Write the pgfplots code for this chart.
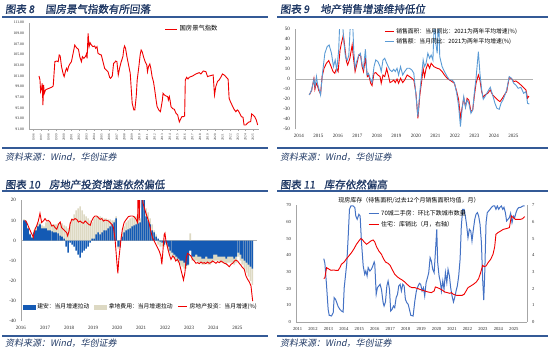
\documentclass[border=0pt]{standalone}
\usepackage{fontspec}
\setmainfont{Liberation Serif}
\newfontfamily\cjk{Noto Sans CJK SC}
\newfontfamily\cjkt[FakeBold=1.2,FakeSlant=0.12]{Noto Sans CJK SC}
\newfontfamily\cjks[FakeSlant=0.2]{Noto Sans CJK SC}
\usepackage{pgfplots}
\pgfplotsset{compat=1.18}
\usepackage{pgfplotstable}
\definecolor{titlec}{RGB}{31,56,100}
\definecolor{rulec}{RGB}{52,90,150}
\definecolor{redc}{RGB}{240,0,0}
\definecolor{lblue}{RGB}{91,155,213}
\definecolor{barblue}{RGB}{20,90,180}
\definecolor{beigec}{RGB}{221,217,195}
\definecolor{p4blue}{RGB}{68,114,196}
\pgfplotsset{/pgf/number format/1000 sep={}}

\pgfplotstableread{
x y
1996.72 101.00
1996.85 100.25
1996.94 98.06
1997.07 98.69
1997.15 99.63
1997.24 95.56
1997.33 99.31
1997.42 97.75
1997.59 98.38
1997.72 98.50
1998.38 98.88
1998.60 99.13
1998.82 103.69
1999.04 103.81
1999.26 103.69
1999.39 104.94
1999.52 104.75
1999.70 102.75
1999.92 101.38
2000.05 100.88
2000.27 102.13
2000.36 102.44
2000.49 102.00
2000.62 102.75
2000.80 103.25
2001.01 103.69
2001.23 105.25
2001.45 106.81
2001.58 106.50
2001.76 106.19
2001.94 106.00
2002.11 104.63
2002.33 103.69
2002.46 104.63
2002.64 104.31
2002.86 104.63
2002.99 105.13
2003.08 104.31
2003.21 109.00
2003.34 106.50
2003.47 107.25
2003.65 106.81
2003.86 106.50
2004.08 106.63
2004.22 106.19
2004.39 106.50
2004.52 105.25
2004.74 105.06
2004.96 104.94
2005.18 103.69
2005.40 102.44
2005.62 102.13
2005.84 101.81
2006.06 100.75
2006.19 100.56
2006.41 101.00
2006.58 103.38
2006.72 103.50
2006.85 103.81
2007.02 103.69
2007.20 101.19
2007.37 102.44
2007.59 103.69
2007.81 104.63
2007.94 106.19
2008.03 106.63
2008.16 106.19
2008.34 104.63
2008.56 103.06
2008.78 101.50
2008.91 98.69
2009.04 95.88
2009.26 94.63
2009.39 94.63
2009.57 97.13
2009.70 100.25
2009.92 102.75
2010.09 104.94
2010.22 105.88
2010.36 105.56
2010.53 104.63
2010.75 103.69
2010.97 103.06
2011.06 101.81
2011.19 102.75
2011.37 103.25
2011.50 102.44
2011.67 100.88
2011.85 99.94
2012.02 98.38
2012.20 96.50
2012.33 95.25
2012.55 94.63
2012.77 94.31
2012.90 95.38
2013.03 96.50
2013.12 97.75
2013.30 97.44
2013.51 97.25
2013.73 97.13
2013.82 96.50
2013.95 97.13
2014.04 96.50
2014.17 95.25
2014.39 94.88
2014.61 94.75
2014.83 94.00
2015.05 93.69
2015.27 92.38
2015.49 93.06
2015.62 93.38
2015.84 93.38
2015.97 93.50
2016.06 100.25
2016.23 100.75
2016.41 100.44
2016.58 100.75
2016.80 100.88
2017.02 101.00
2017.46 101.38
2017.90 101.63
2018.12 101.38
2018.43 101.94
2018.78 101.81
2019.00 100.88
2019.22 101.00
2019.57 101.13
2019.74 101.19
2019.92 97.44
2020.09 99.00
2020.31 99.94
2020.53 100.25
2020.75 100.75
2020.97 101.38
2021.19 101.19
2021.41 100.88
2021.72 100.38
2021.85 96.81
2022.02 96.19
2022.29 95.38
2022.51 94.75
2022.73 94.31
2022.94 94.63
2023.08 94.44
2023.25 94.00
2023.47 93.38
2023.69 93.25
2023.82 91.81
2024.04 91.81
2024.26 92.13
2024.48 92.38
2024.70 92.44
2024.83 93.88
2025.00 93.69
2025.23 93.38
2025.44 92.75
2025.62 91.81
}\climateT

\pgfplotstableread{
x y
2014.53 -15.7
2014.65 -11.3
2014.77 0.7
2014.82 -10
2014.89 -4
2014.94 -5.7
2015.02 -11.3
2015.11 -14.7
2015.19 2.7
2015.29 11
2015.41 16
2015.53 18.7
2015.64 13.3
2015.75 7.7
2015.84 6
2015.93 11
2016.01 7.7
2016.11 29.3
2016.18 36
2016.28 44.3
2016.35 32.7
2016.44 17.7
2016.50 14.3
2016.61 20.7
2016.73 34.3
2016.79 22.7
2016.88 7.7
2016.96 14.3
2017.07 24.3
2017.17 23.3
2017.24 12.7
2017.31 7.7
2017.41 21
2017.51 2.7
2017.58 4.3
2017.68 -4
2017.75 -6.3
2017.85 6
2017.94 6.7
2018.05 4.3
2018.16 2.7
2018.22 -4
2018.31 4.3
2018.40 2.7
2018.50 10.7
2018.58 4.3
2018.67 -3.3
2018.77 -2.3
2018.86 -0.7
2018.94 -3.3
2019.03 0.3
2019.11 -4
2019.21 1
2019.32 -3.3
2019.42 -0.7
2019.55 4.3
2019.67 2.7
2019.79 1
2019.89 -0.7
2020.00 -14
2020.10 -39
2020.20 -15.7
2020.30 -0.7
2020.37 10.7
2020.44 2.7
2020.52 10.7
2020.61 15.3
2020.70 11
2020.78 16
2020.92 12.7
2021.09 11
2021.21 10.3
2021.34 7.7
2021.46 4.3
2021.60 1
2021.72 -0.7
2021.85 -2.3
2021.97 -4
2022.09 -12.3
2022.19 -20.7
2022.28 -39
2022.36 -29
2022.45 -19
2022.54 -27.3
2022.62 -19
2022.71 -20.7
2022.82 -32.3
2022.91 -30.7
2022.99 -17.3
2023.08 -4
2023.20 4.3
2023.28 -0.7
2023.37 -12.3
2023.45 -18
2023.54 -15.7
2023.68 -14
2023.81 -10.7
2023.93 -15.7
2024.05 -18
2024.19 -20.7
2024.31 -22.3
2024.43 -19
2024.53 -15.7
2024.65 -12.3
2024.78 1.7
2024.90 0.7
2025.01 -2.3
2025.12 -1.7
2025.24 -3.3
2025.38 -5.7
2025.52 -8.3
2025.64 -10.7
2025.72 -19
2025.79 -16.7
}\areaT

\pgfplotstableread{
x y
2014.53 -15.7
2014.65 -10.7
2014.77 0
2014.83 -7.3
2014.90 2.7
2014.95 -4
2015.04 -10.7
2015.11 -15.7
2015.21 6
2015.33 26
2015.45 32.7
2015.55 34.3
2015.67 26
2015.77 12.7
2015.86 19.3
2015.94 9.3
2016.04 29.3
2016.11 65
2016.21 65
2016.30 38
2016.39 22
2016.48 19
2016.56 24
2016.66 65
2016.74 65
2016.81 29.3
2016.88 11
2016.96 17.7
2017.07 24.3
2017.15 26
2017.24 14.3
2017.31 11
2017.41 30
2017.49 4.3
2017.56 6
2017.68 -0.7
2017.75 -3.3
2017.85 12.7
2017.94 19.3
2018.05 17.7
2018.16 12.7
2018.22 7.7
2018.31 19.3
2018.40 21
2018.50 16
2018.58 12.7
2018.67 9.3
2018.77 7.7
2018.86 10
2018.94 7.7
2019.03 11
2019.11 4.3
2019.21 12.7
2019.32 4.3
2019.42 7.7
2019.55 11
2019.67 11
2019.79 9.3
2019.89 6
2020.00 -15.7
2020.10 -37.3
2020.20 -12.3
2020.30 6
2020.37 19.3
2020.44 12.7
2020.52 16
2020.61 26
2020.70 21
2020.78 24.3
2020.87 19.3
2020.95 65
2021.02 36
2021.09 26
2021.16 65
2021.22 22.7
2021.34 12.7
2021.46 7.7
2021.60 2.7
2021.72 -0.7
2021.85 -0.7
2021.97 -3.3
2022.09 -14
2022.19 -27.3
2022.28 -47.3
2022.36 -30.7
2022.45 -17.3
2022.54 -28.3
2022.62 -20.7
2022.71 -24
2022.82 -34
2022.91 -30.7
2022.99 -14
2023.08 1
2023.20 27.7
2023.28 6
2023.37 -10.7
2023.45 -20
2023.54 -17.3
2023.68 -12.3
2023.81 -8
2023.93 -15.7
2024.05 -24
2024.15 -29
2024.27 -30
2024.36 -24
2024.46 -20.7
2024.56 -15.7
2024.65 -10.7
2024.78 2.7
2024.90 1
2025.01 -4
2025.12 -5.7
2025.24 -9
2025.38 -8
2025.52 -14
2025.64 -12.3
2025.72 -24
2025.81 -24.7
}\valueT

\pgfplotstableread{
x blue beige
2016.125 10 10.5
2016.208 9.5 10
2016.292 6 6.5
2016.375 3 3.5
2016.458 1.5 2
2016.542 4 5
2016.625 5 6.5
2016.708 7 8.5
2016.792 8 9
2016.875 6 7.5
2016.958 6 7
2017.042 6 9
2017.125 5 9.5
2017.208 5 9
2017.292 4.5 8
2017.375 4 8
2017.458 4 8
2017.542 3.5 8.5
2017.625 2.5 9
2017.708 2 8.5
2017.792 1 7.5
2017.875 -3 7
2017.958 -6 6
2018.042 -1 9
2018.125 -2 11
2018.208 -3 13
2018.292 -5 15
2018.375 -7 16
2018.458 -8.5 17
2018.542 -6 15
2018.625 -5 13
2018.708 -4 12
2018.792 -3 11
2018.875 -1 10
2018.958 1 9
2019.042 1 11
2019.125 3 12
2019.208 4 12
2019.292 3 12
2019.375 4 11.5
2019.458 5 11
2019.542 5 11
2019.625 6 10.5
2019.708 7 10.5
2019.792 8 10
2019.875 9 10
2019.958 11 12
2020.042 -3 -4
2020.125 -3 -3.5
2020.208 2 4
2020.292 4 7
2020.375 5 9
2020.458 5.5 10
2020.542 6 11
2020.625 7 11.5
2020.708 7.5 12
2020.792 8 12
2020.875 8.5 11.5
2020.958 9 11
2021.042 25 25
2021.125 25 25
2021.208 12 16
2021.292 10 14
2021.375 8 11
2021.458 5 8
2021.542 4 5
2021.625 2 3
2021.708 1 -2
2021.792 -0.5 -3
2021.875 -1 -3
2021.958 -2 -3
2022.042 -1 -2
2022.125 -3 -5
2022.208 -5 -7
2022.292 -6 -8
2022.375 -7 -9
2022.458 -8 -10
2022.542 -9 -11
2022.625 -10 -12
2022.708 -10 -13
2022.792 -11 -14
2022.875 -12.5 -14
2022.958 -12 -12.5
2023.042 -5 3.5
2023.125 -8 -10
2023.208 -8 -10
2023.292 -7 -10
2023.375 -8 -11
2023.458 -8 -11
2023.542 -9 -12
2023.625 -9 -12
2023.708 -8 -11
2023.792 -9 -12
2023.875 -9 -12
2023.958 -9 -11
2024.042 -7 -10
2024.125 -7 -10
2024.208 -8 -10
2024.292 -8 -11
2024.375 -8 -11
2024.458 -8 -11
2024.542 -9 -12
2024.625 -8 -11
2024.708 -8 -11
2024.792 -8 -11
2024.875 -9 -12
2024.958 -8 -11
2025.042 -6 -8
2025.125 -7 -10
2025.208 -9 -12
2025.292 -10 -14
2025.375 -11 -16
2025.458 -12 -18
2025.542 -13 -20
2025.625 -14 -22
}\barsT

\pgfplotstableread{
x y
2016.17 10
2016.24 8.9
2016.33 6.4
2016.42 3.9
2016.49 2.3
2016.51 1.5
2016.58 5.6
2016.65 7.2
2016.72 9.7
2016.79 13.5
2016.86 8.9
2016.93 9.7
2017.00 10.9
2017.07 9.7
2017.14 10
2017.21 9.2
2017.28 7.2
2017.35 7.6
2017.42 6.4
2017.49 5.6
2017.56 8.1
2017.63 9.2
2017.69 6.4
2017.76 5.6
2017.83 4.7
2017.90 3.9
2017.94 2.3
2018.00 4.7
2018.04 8.1
2018.11 10.5
2018.18 10.2
2018.25 10.9
2018.32 10.5
2018.39 9.2
2018.46 9.7
2018.53 8.9
2018.60 8.6
2018.67 9.7
2018.74 8.9
2018.81 8.1
2018.88 7.6
2018.94 9.7
2019.01 11.4
2019.08 12.2
2019.15 12.2
2019.22 11.4
2019.29 10.5
2019.36 10.9
2019.43 9.7
2019.50 10.2
2019.57 10
2019.64 9.7
2019.71 8.9
2019.78 8.1
2019.85 6.4
2019.92 -0.2
2019.99 -11
2020.03 -16.3
2020.07 -9.4
2020.13 -2.7
2020.17 1.5
2020.22 5.6
2020.29 8.9
2020.38 10.5
2020.47 11.9
2020.57 12.2
2020.65 12.2
2020.72 11.7
2020.79 10.5
2020.85 8.9
2020.88 30
2020.92 10
2020.96 30
2021.03 30
2021.07 18.8
2021.13 16.4
2021.19 13.9
2021.26 11.4
2021.33 8.9
2021.40 4.7
2021.47 1.5
2021.54 -0.2
2021.61 -1.9
2021.68 -3.5
2021.75 -5.2
2021.82 -7.7
2021.86 -11.8
2021.90 -6
2021.96 3.1
2021.99 3.7
2022.03 -0.2
2022.10 -3.5
2022.17 -6.9
2022.24 -9.4
2022.31 -7.7
2022.38 -8.5
2022.44 -10.2
2022.51 -9.4
2022.58 -11
2022.65 -14.3
2022.72 -17.6
2022.76 -19.6
2022.82 -16
2022.88 -8.5
2022.93 -6.4
2023.00 -6.9
2023.07 -7.7
2023.14 -9.4
2023.21 -10.2
2023.28 -11.3
2023.35 -11
2023.42 -11.5
2023.49 -10.7
2023.56 -11.3
2023.63 -11
2023.69 -11.5
2023.76 -10.7
2023.83 -11.3
2023.90 -11
2023.97 -10.2
2024.04 -10.7
2024.11 -11.3
2024.18 -10.5
2024.25 -11
2024.32 -10.2
2024.39 -10.7
2024.46 -11.3
2024.53 -11.5
2024.60 -12.3
2024.67 -13
2024.74 -11.8
2024.81 -11.3
2024.88 -10.2
2024.94 -9.7
2025.01 -10.2
2025.08 -11.3
2025.15 -12.3
2025.22 -13.5
2025.29 -14.3
2025.36 -17.6
2025.43 -19.3
2025.50 -20.6
2025.57 -22.6
2025.64 -30.1
}\investT

\pgfplotstableread{
x y
2012.70 38
2012.77 35.2
2012.88 21.6
2012.98 7.6
2013.05 4
2013.20 3.6
2013.31 5.6
2013.37 14.6
2013.46 13.6
2013.54 11.6
2013.63 9.2
2013.74 7.6
2013.84 6.6
2013.95 6
2014.02 20.6
2014.10 27.6
2014.19 35.6
2014.28 51.6
2014.36 67.6
2014.45 69.6
2014.60 69.6
2014.71 68.6
2014.77 63.6
2014.86 61.6
2014.97 64.6
2015.05 63.6
2015.14 47.6
2015.25 33.6
2015.35 28.6
2015.42 30.6
2015.50 27.6
2015.57 32.6
2015.68 30.6
2015.78 31.6
2015.87 33.6
2015.96 36
2016.00 34.6
2016.09 16.6
2016.17 20.6
2016.26 21.6
2016.34 22.6
2016.43 19.6
2016.54 11.6
2016.60 9.6
2016.69 12
2016.78 21.6
2016.86 24.6
2016.95 19.6
2017.03 6.6
2017.12 7.6
2017.21 9.6
2017.29 8.6
2017.38 14.6
2017.47 16.6
2017.55 21.6
2017.64 22.6
2017.72 18.6
2017.81 22.6
2017.90 21.6
2017.98 13.6
2018.07 11.6
2018.16 10.6
2018.24 7.6
2018.33 4
2018.48 3.6
2018.59 12.6
2018.69 18.6
2018.80 21.6
2018.89 23.2
2018.97 22.6
2019.06 18.6
2019.15 20.6
2019.23 15.6
2019.32 23.6
2019.41 26.6
2019.49 29.6
2019.58 38.6
2019.66 36.6
2019.75 31.6
2019.84 29.6
2019.92 41.6
2020.01 55.6
2020.07 35.6
2020.16 27.6
2020.25 23.6
2020.31 18.6
2020.40 24.6
2020.48 19.6
2020.57 29.6
2020.66 23.6
2020.74 31.6
2020.83 27.6
2020.91 20.6
2021.00 15.6
2021.09 12
2021.17 14.6
2021.26 18.6
2021.34 21.6
2021.43 27.6
2021.52 37.6
2021.60 57.6
2021.69 67.6
2021.78 67.6
2021.86 63.6
2021.95 57.6
2022.03 50.6
2022.12 55.6
2022.21 54.6
2022.29 48.6
2022.38 55.6
2022.47 61.6
2022.55 64.6
2022.64 65.6
2022.72 63.6
2022.81 58.6
2022.90 47.6
2022.98 25.6
2023.05 13.2
2023.11 27.6
2023.20 59.6
2023.28 65.6
2023.37 66.6
2023.46 67.6
2023.54 68.6
2023.65 69.6
2023.76 69.6
2023.84 67.6
2023.93 69.6
2024.02 67.6
2024.10 68.8
2024.19 69.6
2024.28 67.6
2024.36 68.8
2024.45 65.6
2024.53 60.6
2024.62 61.6
2024.71 62.6
2024.79 65.2
2024.88 59.6
2024.97 63.6
2025.05 62.6
2025.14 65.6
2025.22 67.6
2025.31 68.6
2025.44 68.8
2025.59 69.6
2025.70 69.6
}\citiesT

\pgfplotstableread{
x y
2012.70 2.6
2012.77 2.66
2012.88 3.26
2012.98 3.2
2013.16 3.1
2013.31 3.12
2013.46 3.1
2013.63 3.1
2013.74 3.26
2013.84 3.46
2014.02 3.6
2014.17 3.8
2014.32 3.96
2014.49 4.16
2014.66 4.4
2014.81 4.66
2014.97 4.86
2015.09 5.0
2015.18 4.96
2015.31 4.8
2015.46 4.66
2015.61 4.76
2015.74 4.86
2015.89 4.92
2016.00 4.8
2016.11 4.52
2016.26 4.26
2016.43 4.06
2016.56 3.8
2016.69 3.6
2016.86 3.52
2016.99 3.4
2017.12 3.16
2017.29 2.86
2017.47 2.7
2017.62 2.6
2017.77 2.52
2017.94 2.4
2018.09 2.26
2018.26 2.12
2018.41 2.06
2018.59 2.06
2018.80 2.0
2019.02 1.92
2019.23 1.86
2019.45 1.8
2019.66 1.76
2019.84 1.86
2019.92 2.1
2020.05 2.06
2020.20 2.0
2020.35 1.92
2020.53 1.8
2020.70 1.76
2020.85 1.72
2020.96 1.76
2021.09 1.66
2021.28 1.6
2021.50 1.6
2021.65 1.6
2021.78 1.66
2021.91 1.86
2022.03 2.06
2022.21 2.16
2022.38 2.26
2022.57 2.4
2022.72 2.6
2022.85 2.96
2022.98 3.4
2023.07 3.32
2023.20 3.36
2023.33 3.56
2023.50 3.76
2023.65 4.06
2023.76 4.52
2023.84 5.26
2023.97 5.36
2024.15 5.46
2024.32 5.56
2024.51 5.6
2024.71 5.66
2024.84 6.36
2024.97 6.26
2025.09 6.16
2025.27 6.16
2025.44 6.16
2025.57 6.2
2025.70 6.32
}\ratioT

\pgfplotsset{
  base/.style={
    anchor=south west, scale only axis,
    /pgf/number format/assume math mode=true,
    axis line style={draw=gray!70, line width=0.4pt},
    tick style={draw=gray!70, line width=0.4pt},
    major tick length=1.5pt, tick align=outside,
    ytick style={draw=none},
    tick label style={font=\fontsize{5}{5}\selectfont, text=black!85},
    legend cell align=left,
    legend style={draw=none, fill=none, inner sep=0pt, outer sep=0pt,
      font=\cjk\fontsize{5.8}{7}\selectfont},
    legend image code/.code={\draw[#1, line width=1pt] (0pt,0pt) -- (9pt,0pt);},
  },
}

\begin{document}
\begin{tikzpicture}
\useasboundingbox (0pt,0pt) rectangle (550pt,352pt);

% ---------- titles, rules, sources ----------
\begin{scope}[every node/.style={inner sep=0pt, anchor=west}]
\node[text=titlec, font=\cjkt\fontsize{10.5}{12}\selectfont] at (5pt,343pt) {图表 8\hspace{11pt}国房景气指数有所回落};
\node[text=titlec, font=\cjkt\fontsize{10.5}{12}\selectfont] at (280pt,343pt) {图表 9\hspace{11pt}地产销售增速维持低位};
\node[text=titlec, font=\cjkt\fontsize{10.5}{12}\selectfont] at (5pt,167.5pt) {图表 10\hspace{9pt}房地产投资增速依然偏低};
\node[text=titlec, font=\cjkt\fontsize{10.5}{12}\selectfont] at (280pt,167.5pt) {图表 11\hspace{9pt}库存依然偏高};
\node[text=titlec, font=\cjks\fontsize{9}{10}\selectfont] at (5pt,195pt) {资料来源：Wind，华创证券};
\node[text=titlec, font=\cjks\fontsize{9}{10}\selectfont] at (280pt,195pt) {资料来源：Wind，华创证券};
\node[text=titlec, font=\cjks\fontsize{9}{10}\selectfont] at (5pt,9pt) {资料来源：Wind，华创证券};
\node[text=titlec, font=\cjks\fontsize{9}{10}\selectfont] at (280pt,9pt) {资料来源：Wind，华创证券};
\end{scope}
\draw[rulec, line width=1.3pt] (2pt,335pt) -- (268pt,335pt);
\draw[rulec, line width=1.3pt] (277pt,335pt) -- (548pt,335pt);
\draw[rulec, line width=1.3pt] (2pt,204pt) -- (268pt,204pt);
\draw[rulec, line width=1.3pt] (277pt,204pt) -- (548pt,204pt);
\draw[rulec, line width=1.3pt] (2pt,161pt) -- (268pt,161pt);
\draw[rulec, line width=1.3pt] (277pt,161pt) -- (548pt,161pt);
\draw[rulec, line width=1.3pt] (2pt,16pt) -- (268pt,16pt);
\draw[rulec, line width=1.3pt] (277pt,16pt) -- (548pt,16pt);

% ---------- Panel 1 ----------
\begin{axis}[base, at={(29pt,222.7pt)}, width=230pt, height=106.6pt,
  xmin=1995.4, xmax=2025.8, ymin=91, ymax=111,
  axis lines*=left,
  xtick={1996,...,2025},
  ytick={91,93,...,111},
  y tick label style={font=\fontsize{3.8}{4}\selectfont,
    /pgf/number format/fixed, /pgf/number format/fixed zerofill,
    /pgf/number format/precision=2},
  x tick label style={font=\fontsize{3.2}{3.5}\selectfont, rotate=90, anchor=east},
  legend style={at={(0.59,0.94)}, anchor=west, font=\cjk\fontsize{6.3}{7}\selectfont},
  legend image code/.code={\draw[#1, line width=1pt] (0pt,0pt) -- (12pt,0pt);},
]
\addplot[redc, line width=0.9pt] table[x=x,y=y] {\climateT};
\addlegendentry{国房景气指数}
\end{axis}

% ---------- Panel 2 ----------
\begin{axis}[base, at={(295pt,222.7pt)}, width=238pt, height=100pt,
  xmin=2013.8, xmax=2026.0, ymin=-50, ymax=50,
  axis lines*=left, x axis line style={draw=none}, xtick style={draw=none},
  xtick={2014,...,2025},
  ytick={-50,-40,...,50},
  extra y ticks={0}, extra y tick labels={},
  extra y tick style={grid=major, major grid style={gray!60, line width=0.5pt}},
  legend style={at={(0.375,1.025)}, anchor=north west, row sep=-0.8pt},
]
\addplot[redc, line width=0.9pt] table[x=x,y=y] {\areaT};
\addlegendentry{销售面积：当月同比：2021为两年平均增速(\%)}
\addplot[lblue, line width=0.9pt] table[x=x,y=y] {\valueT};
\addlegendentry{销售额：当月同比：2021为两年平均增速(\%)}
\end{axis}

% ---------- Panel 3 ----------
\begin{axis}[base, at={(21pt,31pt)}, width=236pt, height=120.7pt,
  xmin=2016, xmax=2025.82, ymin=-40, ymax=20,
  axis lines*=left, x axis line style={draw=none}, xtick style={draw=none},
  xtick={2016,...,2025},
  ytick={-40,-30,...,20},
  extra y ticks={0}, extra y tick labels={},
  extra y tick style={grid=major, major grid style={gray!60, line width=0.5pt}},
  legend columns=3,
  legend style={at={(0.008,0.118)}, anchor=west,
    /tikz/every even column/.append style={column sep=3pt}},
]
\addlegendimage{legend image code/.code={\fill[barblue] (0pt,-2pt) rectangle (12pt,2pt);}}
\addlegendentry{建安：当月增速拉动}
\addlegendimage{legend image code/.code={\fill[beigec] (0pt,-2pt) rectangle (12pt,2pt);}}
\addlegendentry{拿地费用：当月增速拉动}
\addlegendimage{redc, line width=1pt}
\addlegendentry{房地产投资：当月增速(\%)}
\addplot[ybar, bar width=1.6pt, bar shift=0pt, fill=beigec, draw=none, forget plot] table[x=x,y=beige] {\barsT};
\addplot[ybar, bar width=1.6pt, bar shift=0pt, fill=barblue, draw=none, forget plot] table[x=x,y=blue] {\barsT};
\addplot[redc, line width=0.9pt, forget plot] table[x=x,y=y] {\investT};
\end{axis}

% ---------- Panel 4 ----------
\node[font=\cjk\fontsize{6}{7}\selectfont, inner sep=0pt] at (409pt,152pt) {现房库存（待售面积/过去12个月销售面积均值，月）};
\begin{axis}[base, at={(296pt,30pt)}, width=231pt, height=116.7pt,
  xmin=2010.9, xmax=2025.85, ymin=0, ymax=70,
  axis lines*=left,
  xtick={2011,...,2025},
  ytick={0,10,...,70},
  tick label style={font=\fontsize{4.6}{5}\selectfont},
  legend style={at={(0.312,0.975)}, anchor=north west, row sep=0.5pt,
    font=\cjk\fontsize{6}{7}\selectfont},
  legend image code/.code={\draw[#1, line width=1.1pt] (0pt,0pt) -- (10pt,0pt);},
]
\addplot[p4blue, line width=1pt] table[x=x,y=y] {\citiesT};
\addlegendentry{70城二手房：环比下跌城市数量}
\addlegendimage{redc, line width=1pt}
\addlegendentry{住宅：库销比（月，右轴）}
\end{axis}
\begin{axis}[base, at={(296pt,30pt)}, width=231pt, height=116.7pt,
  xmin=2010.9, xmax=2025.85, ymin=0, ymax=7,
  axis y line*=right, axis x line=none, xtick=\empty,
  ytick={0,1,...,7},
  tick label style={font=\fontsize{4.6}{5}\selectfont},
]
\addplot[redc, line width=0.9pt] table[x=x,y=y] {\ratioT};
\end{axis}
\end{tikzpicture}
\end{document}
